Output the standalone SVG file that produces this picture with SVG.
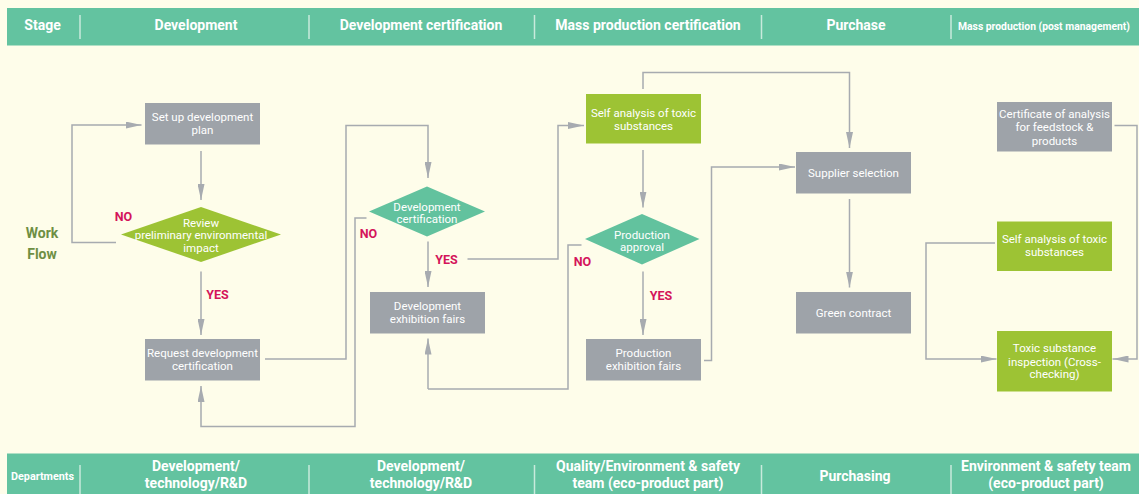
<svg xmlns="http://www.w3.org/2000/svg" width="1139" height="494" viewBox="0 0 1139 494">
<defs>
<style>
.band{fill:#63c3a0}
.sep{stroke:#c9eadc;stroke-width:1.5}
.hd{font-family:Roboto,"Liberation Sans",sans-serif;font-weight:700;font-size:14px;fill:#ffffff;text-anchor:middle}
.gray{fill:#9ea3a9}
.green{fill:#9dc334}
.teal{fill:#62c29e}
.nt{font-family:Roboto,"Liberation Sans",sans-serif;font-size:11.5px;fill:#ffffff;text-anchor:middle}
.lbl{font-family:Roboto,"Liberation Sans",sans-serif;font-weight:700;font-size:12.5px;fill:#d4145a;text-anchor:middle}
.wf{font-family:Roboto,"Liberation Sans",sans-serif;font-weight:700;font-size:14px;fill:#6e8f43;text-anchor:middle}
.ln{fill:none;stroke:#a7abb0;stroke-width:1.5}
.arr{fill:none;stroke:#a7abb0;stroke-width:1.5;marker-end:url(#ah)}
</style>
<marker id="ah" viewBox="0 0 16 7" refX="16" refY="3.5" markerWidth="16" markerHeight="7" markerUnits="userSpaceOnUse" orient="auto">
<path d="M0,0 L16,3.5 L0,7 z" fill="#a7abb0"/>
</marker>
</defs>
<rect width="1139" height="494" fill="#fefdea"/>

<g id="header">
<rect class="band" x="7" y="8" width="1132" height="37.5"/>
<line class="sep" x1="80" y1="15" x2="80" y2="39"/>
<line class="sep" x1="309" y1="15" x2="309" y2="39"/>
<line class="sep" x1="534.5" y1="15" x2="534.5" y2="39"/>
<line class="sep" x1="761.5" y1="15" x2="761.5" y2="39"/>
<line class="sep" x1="951" y1="15" x2="951" y2="39"/>
<text class="hd" x="42.5" y="30">Stage</text>
<text class="hd" x="196" y="30">Development</text>
<text class="hd" x="421" y="30">Development certification</text>
<text class="hd" x="648" y="30">Mass production certification</text>
<text class="hd" x="856" y="30">Purchase</text>
<text class="hd" x="1044" y="30" style="font-size:11px" textLength="172" lengthAdjust="spacingAndGlyphs">Mass production (post management)</text>
</g>

<g id="footer">
<rect class="band" x="7" y="453.5" width="1132" height="40.5"/>
<line class="sep" x1="80" y1="465" x2="80" y2="494"/>
<line class="sep" x1="309" y1="465" x2="309" y2="494"/>
<line class="sep" x1="534.5" y1="465" x2="534.5" y2="494"/>
<line class="sep" x1="761.5" y1="465" x2="761.5" y2="494"/>
<line class="sep" x1="951" y1="465" x2="951" y2="494"/>
<text class="hd" x="42.5" y="480" style="font-size:11px" textLength="63" lengthAdjust="spacingAndGlyphs">Departments</text>
<text class="hd" x="196" y="471">Development/</text>
<text class="hd" x="196" y="488">technology/R&amp;D</text>
<text class="hd" x="421" y="471">Development/</text>
<text class="hd" x="421" y="488">technology/R&amp;D</text>
<text class="hd" x="648" y="471">Quality/Environment &amp; safety</text>
<text class="hd" x="648" y="488">team (eco-product part)</text>
<text class="hd" x="855" y="481">Purchasing</text>
<text class="hd" x="1046" y="471">Environment &amp; safety team</text>
<text class="hd" x="1046" y="488">(eco-product part)</text>
</g>

<g id="workflow">
<text class="wf" x="42" y="238">Work</text>
<text class="wf" x="42" y="259">Flow</text>
</g>

<g id="connectors">
<path class="arr" d="M201,151 V200"/>
<path class="arr" d="M116,242.5 H72 V125 H141.5"/>
<path class="arr" d="M201,271.5 V335"/>
<path class="arr" d="M265,359 H346 V125.5 H428 V178"/>
<path class="arr" d="M366.5,218 H355 V426.5 H201 V386"/>
<path class="arr" d="M428,241.5 V287"/>
<path class="arr" d="M467.5,259 H558 V125.5 H584"/>
<path class="arr" d="M428,389 V338.5"/>
<path class="ln" d="M428,389 H568 V245 H581.5"/>
<path class="arr" d="M643,89 V72.5 H849.5 V148"/>
<path class="arr" d="M643,150 V207.5"/>
<path class="arr" d="M643,271.5 V335"/>
<path class="arr" d="M704,360.5 H711.5 V167 H795"/>
<path class="arr" d="M849.5,199 V287.5"/>
<path class="arr" d="M1114.5,125.5 H1137 V359 H1112.5"/>
<path class="arr" d="M995,243 H926 V359 H996.5"/>
<text class="lbl" x="123.5" y="221">NO</text>
<text class="lbl" x="217.5" y="299">YES</text>
<text class="lbl" x="368.5" y="238">NO</text>
<text class="lbl" x="446.5" y="263.5">YES</text>
<text class="lbl" x="582.5" y="266">NO</text>
<text class="lbl" x="661" y="299.5">YES</text>
</g>

<g id="n-plan">
<rect class="gray" x="145" y="103" width="115" height="41.5"/>
<text class="nt" x="202.5" y="121">Set up development</text>
<text class="nt" x="202.5" y="134">plan</text>
</g>
<g id="n-review">
<polygon class="green" points="201,207 281,234.5 201,262 121,234.5"/>
<text class="nt" x="201" y="226.5">Review</text>
<text class="nt" x="201" y="239">preliminary environmental</text>
<text class="nt" x="201" y="251.5">impact</text>
</g>
<g id="n-request">
<rect class="gray" x="145" y="339" width="115" height="41.5"/>
<text class="nt" x="202.5" y="356.5">Request development</text>
<text class="nt" x="202.5" y="370">certification</text>
</g>
<g id="n-devcert">
<polygon class="teal" points="427,186.5 485,211.5 427,236.5 369,211.5"/>
<text class="nt" x="427" y="211">Development</text>
<text class="nt" x="427" y="223">certification</text>
</g>
<g id="n-devfair">
<rect class="gray" x="370" y="292" width="115" height="41.5"/>
<text class="nt" x="427.5" y="310">Development</text>
<text class="nt" x="427.5" y="323">exhibition fairs</text>
</g>
<g id="n-self1">
<rect class="green" x="586" y="94" width="115" height="49.5"/>
<text class="nt" x="643.5" y="117">Self analysis of toxic</text>
<text class="nt" x="643.5" y="129.5">substances</text>
</g>
<g id="n-prodapp">
<polygon class="teal" points="642,214 699.5,239 642,264.5 585,239"/>
<text class="nt" x="642" y="238.5">Production</text>
<text class="nt" x="642" y="250.5">approval</text>
</g>
<g id="n-prodfair">
<rect class="gray" x="586" y="339" width="115" height="41.5"/>
<text class="nt" x="643.5" y="356.5">Production</text>
<text class="nt" x="643.5" y="370">exhibition fairs</text>
</g>
<g id="n-supplier">
<rect class="gray" x="796" y="152" width="115" height="41.5"/>
<text class="nt" x="853.5" y="177">Supplier selection</text>
</g>
<g id="n-green">
<rect class="gray" x="796" y="292" width="115" height="41.5"/>
<text class="nt" x="853.5" y="316.5">Green contract</text>
</g>
<g id="n-coa">
<rect class="gray" x="997" y="102" width="115" height="49.5"/>
<text class="nt" x="1054.5" y="117.5">Certificate of analysis</text>
<text class="nt" x="1054.5" y="131">for feedstock &amp;</text>
<text class="nt" x="1054.5" y="145">products</text>
</g>
<g id="n-self2">
<rect class="green" x="997" y="221.5" width="115" height="49.5"/>
<text class="nt" x="1054.5" y="242.5">Self analysis of toxic</text>
<text class="nt" x="1054.5" y="256">substances</text>
</g>
<g id="n-inspect">
<rect class="green" x="997" y="331" width="115" height="60.5"/>
<text class="nt" x="1054.5" y="352">Toxic substance</text>
<text class="nt" x="1054.5" y="365.5">inspection (Cross-</text>
<text class="nt" x="1054.5" y="378">checking)</text>
</g>
</svg>
